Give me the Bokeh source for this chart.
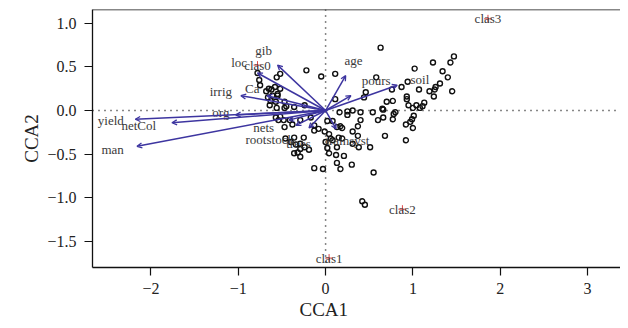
from bokeh.plotting import figure
from bokeh.models import Range1d, Arrow, OpenHead, Span, ColumnDataSource, Title, FixedTicker
from bokeh.embed import file_html
from bokeh.resources import INLINE
from bokeh.core.properties import value

# site scores (CCA1, CCA2)
site_x = [-0.78, -0.56, -0.52, -0.22, -0.05, 0.11, -0.76, -0.75, -0.65, -0.58, -0.52,
          -0.68, -0.62, -0.55, -0.66, -0.61, -0.55, -0.63, -0.64, -0.57, -0.47,
          -0.45, -0.56, -0.47, -0.24, 0.11, -0.36, 0.16, 0.25,
          -0.57, -0.54, -0.52, -0.48, -0.41, -0.38, -0.47, -0.29, -0.17, -0.13,
          -0.08, -0.01, 0.02, 0.08, 0.17, 0.19, 0.13, 0.04, 0.06, 0.15,
          0.19, 0.08, 0.00, 0.02, 0.13, -0.36, -0.25, -0.46, -0.40, -0.34,
          -0.29, -0.24, -0.19, -0.29, -0.36, -0.32, -0.29, 0.04, 0.12, 0.21,
          0.13, 0.17, -0.13, -0.03, 0.30, 0.55, 0.42, 0.45, 0.31, 0.38,
          0.51, 0.31, 0.37, 0.37, 0.40, 0.68, 0.92, 0.40, 0.31, 0.25,
          0.54, 0.60, 0.66, 0.66, 0.77, 0.78, 0.80, 0.92, 0.97, 0.99, 1.00, 1.01,
          0.63, 1.23, 1.43, 1.47, 1.02, 1.34, 1.40, 0.58, 0.94, 0.87,
          1.31, 1.26, 1.25, 1.19, 1.45, 1.07, 1.24, 0.76, 0.46, 0.44,
          0.93, 0.93, 0.77, 0.70, 1.13, 1.11, 1.04, 0.95, 1.00, 1.08, 0.65, -0.13]
site_y = [0.43, 0.38, 0.42, 0.46, 0.39, 0.42, 0.35, 0.29, 0.25, 0.27, 0.25,
          0.22, 0.24, 0.19, 0.15, 0.17, 0.17, 0.11, 0.06, 0.10, 0.10,
          0.05, 0.03, 0.03, 0.06, 0.13, 0.04, -0.02, -0.01,
          -0.08, -0.11, -0.07, -0.11, -0.11, -0.16, -0.19, -0.11, -0.08, -0.17,
          -0.21, -0.24, -0.12, -0.12, -0.18, -0.20, -0.19, -0.27, -0.32, -0.31,
          -0.32, -0.34, -0.36, -0.43, -0.42, -0.31, -0.31, -0.32, -0.36, -0.39,
          -0.38, -0.42, -0.45, -0.44, -0.49, -0.48, -0.53, -0.49, -0.51, -0.52,
          -0.60, -0.67, -0.66, -0.67, -0.62, -0.71, -1.04, -1.08, -0.38, -0.42,
          -0.42, -0.24, -0.29, -0.18, -0.11, -0.29, -0.34, -0.02, 0.00, -0.05,
          -0.02, -0.11, -0.08, 0.01, -0.10, -0.04, -0.02, -0.16, -0.13, -0.10, -0.20, -0.06,
          0.72, 0.55, 0.55, 0.62, 0.48, 0.45, 0.38, 0.38, 0.33, 0.27,
          0.31, 0.27, 0.24, 0.22, 0.22, 0.24, 0.16, 0.24, 0.21, 0.15,
          0.16, 0.13, 0.11, 0.10, 0.09, 0.05, 0.06, 0.06, 0.03, 0.03, 0.02, -0.23]

# biplot arrows (environmental variables)
var_names = ["gib", "loc", "Ca", "irrig", "org", "yield", "netCol", "man",
             "nets", "rootstock", "trees", "trainsyst", "age", "pours", "soil"]
var_x = [-0.55, -0.78, -0.67, -0.97, -1.03, -2.18, -1.76, -2.16,
         -0.34, -0.19, -0.42, 0.12, 0.23, 0.29, 0.82]
var_y = [0.52, 0.43, 0.17, 0.17, -0.05, -0.10, -0.14, -0.41,
         -0.17, -0.20, -0.11, -0.21, 0.40, 0.17, 0.29]
var_lab_x = [-0.71, -0.99, -0.84, -1.20, -1.20, -2.46, -2.14, -2.44,
             -0.71, -0.64, -0.31, 0.25, 0.32, 0.58, 1.08]
var_lab_y = [0.69, 0.55, 0.25, 0.22, -0.02, -0.11, -0.17, -0.45,
             -0.19, -0.33, -0.38, -0.34, 0.57, 0.34, 0.36]

# class centroids
cent_names = ["clas0", "clas1", "clas2", "clas3"]
cent_x = [-0.78, 0.04, 0.88, 1.86]
cent_y = [0.52, -1.69, -1.13, 1.05]

x_ticks = [-2, -1, 0, 1, 2, 3]
x_tick_labels = ["\u22122", "\u22121", "0", "1", "2", "3"]
y_ticks = [-1.5, -1.0, -0.5, 0.0, 0.5, 1.0]
y_tick_labels = ["\u22121.5", "\u22121.0", "\u22120.5", "0.0", "0.5", "1.0"]

SERIF = "Liberation Serif"
ARROW_C = "#3d35a0"
TXT_C = "#3a3a3a"
Y_TOP = 1.157

p = figure(width=620, height=320,
           x_range=Range1d(-2.67, 3.378), y_range=Range1d(-1.798, Y_TOP),
           output_backend="svg", toolbar_location=None,
           min_border_left=92, min_border_right=0, min_border_top=9, min_border_bottom=53)
p.outline_line_color = None
p.xgrid.visible = False
p.ygrid.visible = False
p.background_fill_color = "white"
p.border_fill_color = "white"

for ax in (p.xaxis[0], p.yaxis[0]):
    ax.axis_line_color = "#111"
    ax.axis_line_width = 1.3
    ax.major_tick_line_color = "#111"
    ax.major_tick_line_width = 1.2
    ax.major_tick_out = 8
    ax.major_tick_in = 0
    ax.minor_tick_line_color = None
    ax.major_label_text_font = SERIF
    ax.major_label_text_font_size = "16px"
    ax.major_label_text_color = "#222"
    ax.major_label_standoff = 8

p.xaxis.ticker = FixedTicker(ticks=x_ticks)
p.xaxis.major_label_overrides = dict(zip(x_ticks, x_tick_labels))
p.xaxis.major_label_standoff = 7
p.yaxis.ticker = FixedTicker(ticks=y_ticks)
p.yaxis.major_label_overrides = dict(zip(y_ticks, y_tick_labels))

p.yaxis.axis_label = "CCA2"
p.yaxis.axis_label_text_font = SERIF
p.yaxis.axis_label_text_font_size = "19px"
p.yaxis.axis_label_text_font_style = "normal"
p.yaxis.axis_label_text_color = "#222"
p.yaxis.axis_label_standoff = 2

p.add_layout(Title(text="CCA1", align="left", offset=207, text_font=SERIF,
                   text_font_size="19px", text_font_style="normal",
                   text_color="#222", standoff=0), "below")

# top border
p.add_layout(Span(location=Y_TOP, dimension="width", line_color="#111", line_width=1.5))

# dotted zero lines
p.add_layout(Span(location=0, dimension="width", line_color="#111", line_width=1.5, line_dash="1 5"))
p.add_layout(Span(location=0, dimension="height", line_color="#111", line_width=1.5, line_dash="1 5"))

# sites
p.scatter(site_x, site_y, marker="circle", size=5, fill_color=None,
          line_color="#111", line_width=1.4)

# arrows
asrc = ColumnDataSource(dict(x0=[0] * len(var_x), y0=[0] * len(var_y), x1=var_x, y1=var_y))
p.add_layout(Arrow(source=asrc, x_start="x0", y_start="y0", x_end="x1", y_end="y1",
                   line_color=ARROW_C, line_width=1.5,
                   end=OpenHead(size=5, line_color=ARROW_C, line_width=1.3)))

p.text(var_lab_x, var_lab_y, text=var_names, text_font=value(SERIF), text_font_size="13px",
       text_align="center", text_baseline="middle", text_color=TXT_C)

# centroids
p.scatter(cent_x, cent_y, marker="cross", size=8, line_color="#e04848", line_width=1)
p.text(cent_x, cent_y, text=cent_names, text_font=value(SERIF), text_font_size="13px",
       text_align="center", text_baseline="middle", text_color=TXT_C)

open("out.html", "w").write(file_html(p, INLINE))
